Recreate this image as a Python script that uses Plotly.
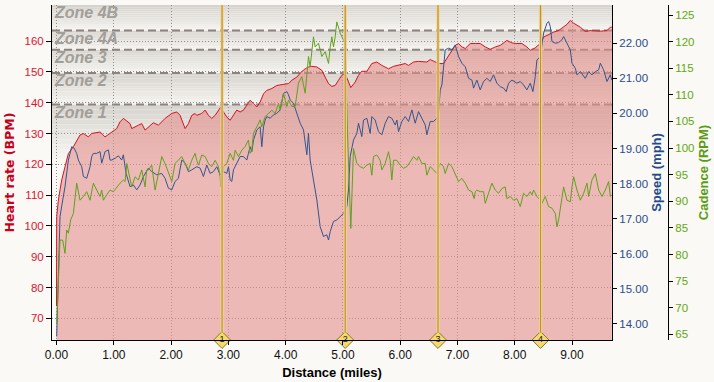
import plotly.graph_objects as go

# ---------------- data ----------------
hr_points = [
    (0.0, 74), (0.003, 103.0), (0.032, 108.4), (0.090, 114.9), (0.148, 119.2), (0.207, 123.5),
    (0.294, 125.7), (0.410, 129.5), (0.469, 130.0), (0.556, 128.9), (0.614, 130.0), (0.760, 130.5),
    (0.847, 128.9), (0.934, 130.0), (1.051, 131.6), (1.109, 133.8), (1.167, 134.9), (1.284, 133.2),
    (1.313, 131.6), (1.429, 132.7), (1.488, 133.2), (1.546, 131.1), (1.691, 133.5), (1.779, 132.7),
    (1.895, 134.9), (2.012, 136.5), (2.099, 137.0), (2.157, 135.9), (2.215, 132.7), (2.245, 131.6),
    (2.303, 133.2), (2.361, 135.9), (2.419, 136.5), (2.448, 135.9), (2.536, 136.5), (2.594, 137.6),
    (2.652, 135.9), (2.710, 134.9), (2.769, 135.9), (2.827, 137.6), (2.868, 138.6), (2.914, 137.0),
    (2.972, 135.4), (3.031, 134.3), (3.089, 135.9), (3.147, 137.6), (3.206, 137.0), (3.264, 137.6),
    (3.322, 139.2), (3.380, 140.8), (3.439, 139.7), (3.497, 138.6), (3.555, 140.2), (3.614, 142.9),
    (3.672, 144.0), (3.759, 144.6), (3.846, 145.6), (3.991, 146.0), (4.050, 146.2), (4.108, 147.3),
    (4.195, 148.3), (4.254, 149.6), (4.341, 151.0), (4.399, 151.6), (4.457, 151.8), (4.545, 151.6),
    (4.632, 150.5), (4.690, 148.3), (4.749, 146.2), (4.807, 145.3), (4.865, 145.6), (4.923, 147.3),
    (4.981, 148.9), (5.039, 149.4), (5.097, 146.7), (5.138, 144.9), (5.214, 146.7), (5.272, 148.9),
    (5.330, 150.2), (5.418, 150.2), (5.505, 152.7), (5.592, 153.2), (5.680, 152.1), (5.796, 151.0),
    (5.884, 151.8), (6.000, 152.3), (6.088, 152.7), (6.146, 152.1), (6.233, 153.2), (6.320, 153.4),
    (6.408, 153.4), (6.466, 153.2), (6.524, 154.0), (6.612, 153.2), (6.670, 152.7), (6.757, 152.7),
    (6.874, 155.9), (6.961, 158.6), (7.019, 159.2), (7.077, 158.1), (7.136, 157.6), (7.223, 159.2),
    (7.310, 159.2), (7.397, 159.2), (7.485, 158.1), (7.572, 157.3), (7.660, 158.1), (7.747, 158.6),
    (7.863, 160.2), (7.951, 159.4), (8.038, 159.2), (8.125, 159.2), (8.212, 158.1), (8.271, 157.0),
    (8.358, 157.8), (8.445, 159.2), (8.504, 161.3), (8.620, 162.4), (8.679, 162.9), (8.766, 163.4),
    (8.853, 164.5), (8.911, 165.4), (8.970, 166.7), (9.028, 165.8), (9.145, 164.5), (9.232, 163.1),
    (9.319, 163.4), (9.407, 163.2), (9.494, 163.2), (9.610, 163.4), (9.669, 164.5), (9.695, 164.5),
]

speed_points = [
    (0.003, 13.64), (0.032, 15.63), (0.061, 17.06), (0.108, 17.53), (0.148, 17.91), (0.207, 18.67),
    (0.265, 19.05), (0.306, 19.01), (0.352, 18.86), (0.381, 18.67), (0.440, 18.48), (0.469, 18.20),
    (0.527, 18.15), (0.585, 18.48), (0.614, 18.77), (0.643, 18.86), (0.702, 18.86), (0.760, 18.91),
    (0.789, 18.58), (0.847, 18.91), (0.905, 18.96), (0.934, 18.67), (0.964, 18.67), (1.022, 18.72),
    (1.080, 18.79), (1.138, 18.67), (1.167, 18.82), (1.214, 18.29), (1.284, 17.91), (1.342, 17.96),
    (1.400, 17.82), (1.459, 17.96), (1.517, 18.20), (1.604, 18.44), (1.662, 18.34), (1.750, 18.25),
    (1.837, 18.29), (1.895, 18.15), (1.953, 17.87), (2.012, 17.82), (2.070, 18.06), (2.128, 18.15),
    (2.186, 18.67), (2.245, 18.58), (2.303, 18.34), (2.361, 18.39), (2.419, 18.44), (2.448, 18.48),
    (2.507, 18.44), (2.565, 18.20), (2.623, 18.53), (2.681, 18.29), (2.740, 18.34), (2.798, 18.48),
    (2.856, 18.25), (2.914, 18.34), (2.972, 18.29), (3.002, 18.48), (3.031, 18.10), (3.060, 18.06),
    (3.089, 18.39), (3.147, 18.58), (3.206, 18.77), (3.264, 18.77), (3.322, 18.67), (3.351, 18.86),
    (3.380, 19.05), (3.410, 18.91), (3.439, 19.24), (3.497, 19.53), (3.555, 19.62), (3.584, 19.05),
    (3.614, 19.62), (3.643, 19.81), (3.672, 19.91), (3.730, 19.86), (3.788, 19.96), (3.846, 20.00),
    (3.905, 20.10), (3.963, 20.57), (4.021, 20.62), (4.050, 20.53), (4.079, 20.38), (4.137, 20.29),
    (4.195, 20.00), (4.254, 19.72), (4.312, 19.53), (4.370, 18.82), (4.399, 19.43), (4.428, 18.67),
    (4.486, 18.10), (4.545, 17.53), (4.603, 16.77), (4.661, 16.49), (4.719, 16.54), (4.749, 16.39),
    (4.778, 16.63), (4.836, 16.92), (4.894, 16.96), (4.952, 17.06), (5.010, 17.15), (5.068, 17.34),
    (5.098, 17.82), (5.127, 18.77), (5.185, 19.24), (5.243, 19.43), (5.272, 19.72), (5.330, 19.34),
    (5.360, 19.81), (5.418, 19.86), (5.476, 19.43), (5.505, 19.91), (5.563, 19.81), (5.621, 19.48),
    (5.680, 19.39), (5.738, 19.72), (5.796, 19.91), (5.854, 19.86), (5.913, 19.67), (5.942, 19.81),
    (5.971, 19.48), (6.029, 19.77), (6.088, 19.91), (6.146, 19.77), (6.204, 20.10), (6.262, 19.72),
    (6.320, 20.05), (6.379, 19.86), (6.437, 19.67), (6.466, 19.39), (6.524, 19.77), (6.582, 19.77),
    (6.641, 19.86), (6.670, 20.00), (6.699, 20.67), (6.728, 20.81), (6.786, 21.81), (6.845, 21.86),
    (6.903, 21.81), (6.961, 21.95), (7.019, 21.62), (7.077, 21.43), (7.136, 21.33), (7.194, 21.00),
    (7.252, 20.95), (7.281, 20.72), (7.339, 20.95), (7.397, 20.67), (7.456, 20.91), (7.514, 21.00),
    (7.572, 20.91), (7.630, 21.10), (7.689, 20.86), (7.747, 20.76), (7.805, 20.72), (7.851, 20.62),
    (7.892, 20.86), (7.951, 20.95), (8.038, 20.86), (8.096, 20.91), (8.154, 20.81), (8.212, 20.67),
    (8.271, 20.86), (8.317, 20.62), (8.358, 21.05), (8.387, 21.52), (8.445, 21.62), (8.504, 22.29),
    (8.562, 22.57), (8.591, 22.62), (8.620, 22.48), (8.650, 22.05), (8.708, 22.00), (8.766, 22.02),
    (8.824, 22.10), (8.853, 22.19), (8.911, 22.00), (8.970, 21.81), (8.999, 21.43), (9.057, 21.29),
    (9.086, 21.10), (9.145, 21.19), (9.232, 21.00), (9.290, 21.19), (9.348, 21.10), (9.407, 21.19),
    (9.465, 21.24), (9.494, 21.43), (9.552, 21.24), (9.610, 20.91), (9.669, 21.10), (9.695, 20.95),
]

cadence_points = [
    (0.003, 67.0), (0.032, 75.8), (0.061, 82.7), (0.108, 82.7), (0.148, 80.2), (0.178, 84.6),
    (0.207, 84.0), (0.247, 86.5), (0.294, 87.7), (0.352, 93.4), (0.410, 90.2), (0.469, 90.9),
    (0.527, 91.8), (0.585, 90.2), (0.643, 93.4), (0.702, 92.1), (0.760, 90.9), (0.789, 92.1),
    (0.818, 90.2), (0.876, 91.2), (0.934, 92.1), (0.993, 91.8), (1.051, 92.7), (1.109, 93.4),
    (1.167, 94.0), (1.197, 93.7), (1.226, 97.1), (1.284, 94.0), (1.313, 92.7), (1.371, 94.6),
    (1.429, 94.0), (1.488, 95.9), (1.546, 92.7), (1.575, 95.9), (1.604, 95.9), (1.662, 96.8),
    (1.721, 92.1), (1.779, 95.2), (1.837, 98.4), (1.895, 97.1), (1.953, 95.2), (2.012, 93.7),
    (2.070, 97.1), (2.128, 97.7), (2.186, 98.4), (2.245, 97.1), (2.303, 95.9), (2.361, 97.7),
    (2.419, 99.0), (2.448, 97.7), (2.478, 96.8), (2.536, 98.7), (2.594, 98.4), (2.652, 97.1),
    (2.710, 96.5), (2.769, 97.7), (2.827, 96.5), (2.856, 94.6), (2.868, 92.7), (2.914, 96.5),
    (2.972, 97.1), (3.031, 99.0), (3.089, 97.7), (3.118, 99.6), (3.177, 98.4), (3.235, 99.6),
    (3.293, 100.3), (3.351, 101.5), (3.380, 99.0), (3.410, 99.6), (3.439, 102.8), (3.497, 104.0),
    (3.555, 105.3), (3.584, 104.0), (3.643, 105.9), (3.701, 106.5), (3.759, 107.1), (3.817, 106.5),
    (3.876, 108.4), (3.905, 107.1), (3.963, 110.3), (3.992, 109.0), (4.021, 107.8), (4.050, 109.0),
    (4.108, 107.8), (4.166, 107.8), (4.195, 110.3), (4.224, 112.2), (4.283, 113.4), (4.341, 110.3),
    (4.399, 117.2), (4.428, 115.3), (4.486, 120.9), (4.515, 119.0), (4.574, 119.7), (4.632, 117.2),
    (4.690, 118.1), (4.749, 115.9), (4.778, 119.0), (4.807, 120.9), (4.836, 119.0), (4.865, 120.9),
    (4.894, 123.7), (4.952, 121.6), (5.010, 120.3), (5.039, 119.7), (5.080, 102.8), (5.138, 84.9),
    (5.185, 99.9), (5.243, 97.1), (5.301, 96.5), (5.360, 96.2), (5.418, 96.8), (5.476, 97.1),
    (5.505, 94.9), (5.534, 98.4), (5.592, 98.7), (5.651, 97.7), (5.680, 95.9), (5.738, 97.1),
    (5.796, 99.3), (5.825, 97.7), (5.854, 94.0), (5.884, 97.7), (5.942, 97.7), (6.000, 96.8),
    (6.058, 96.2), (6.117, 96.5), (6.175, 97.4), (6.233, 98.4), (6.291, 97.7), (6.320, 98.4),
    (6.379, 97.1), (6.437, 97.1), (6.466, 94.9), (6.524, 96.5), (6.582, 95.9), (6.641, 95.2),
    (6.699, 97.1), (6.757, 96.5), (6.786, 95.2), (6.845, 97.1), (6.903, 96.5), (6.961, 95.2),
    (7.019, 93.7), (7.077, 94.3), (7.136, 93.4), (7.194, 92.1), (7.252, 91.8), (7.292, 90.5),
    (7.310, 91.8), (7.339, 92.1), (7.397, 91.8), (7.456, 91.8), (7.485, 89.6), (7.543, 91.5),
    (7.601, 93.4), (7.660, 92.1), (7.718, 91.5), (7.776, 92.4), (7.834, 92.7), (7.863, 90.5),
    (7.922, 90.9), (7.980, 90.2), (8.038, 90.5), (8.096, 89.0), (8.154, 91.5), (8.212, 90.9),
    (8.271, 91.8), (8.300, 91.2), (8.329, 92.1), (8.387, 90.9), (8.445, 90.2), (8.474, 89.6),
    (8.533, 90.9), (8.591, 89.0), (8.650, 88.7), (8.708, 87.7), (8.737, 85.2), (8.766, 86.5),
    (8.795, 88.3), (8.853, 92.7), (8.911, 90.2), (8.970, 89.9), (8.999, 92.7), (9.028, 94.6),
    (9.086, 92.1), (9.145, 90.2), (9.203, 91.5), (9.261, 93.4), (9.290, 90.9), (9.348, 94.0),
    (9.407, 95.2), (9.465, 92.1), (9.523, 90.9), (9.581, 92.1), (9.639, 93.7), (9.669, 90.9),
    (9.695, 91.2),
]

lap_distances = [2.89, 5.04, 6.66, 8.45]
lap_labels = ["1", "2", "3", "4"]

zone_names = ["Zone 1", "Zone 2", "Zone 3", "Zone 4A", "Zone 4B"]
zone_lower = [120.0, 139.4, 149.6, 157.2, 163.4]
zone_upper = [139.4, 149.6, 157.2, 163.4, 171.7]

hr_ticks = [70, 80, 90, 100, 110, 120, 130, 140, 150, 160]
speed_ticks = [14, 15, 16, 17, 18, 19, 20, 21, 22]
cadence_ticks = [65, 70, 75, 80, 85, 90, 95, 100, 105, 110, 115, 120, 125]
mile_ticks = [0, 1, 2, 3, 4, 5, 6, 7, 8, 9]

# ---------------- figure ----------------
hr_x, hr_y = zip(*hr_points)
sp_x, sp_y = zip(*speed_points)
cd_x, cd_y = zip(*cadence_points)

HR_RANGE = [63.0, 171.7]
fig = go.Figure()

fig.add_trace(go.Scatter(
    x=hr_x, y=hr_y, mode="lines", fill="tozeroy",
    fillcolor="rgba(226,142,138,0.6)",
    line=dict(color="#D8121E", width=1), yaxis="y", showlegend=False, hoverinfo="skip"))

fig.add_trace(go.Scatter(
    x=sp_x, y=sp_y, mode="lines", line=dict(color="#34558F", width=1),
    yaxis="y2", showlegend=False, hoverinfo="skip"))

fig.add_trace(go.Scatter(
    x=cd_x, y=cd_y, mode="lines", line=dict(color="#62A11E", width=1),
    yaxis="y3", showlegend=False, hoverinfo="skip"))

fig.add_trace(go.Scatter(
    x=lap_distances, y=[HR_RANGE[0]] * len(lap_distances), mode="markers+text",
    text=lap_labels, textposition="middle center",
    textfont=dict(size=9, color="#222222", family="Liberation Sans"),
    marker=dict(symbol="diamond", size=13, color="#F4D96C",
                line=dict(color="#8A7628", width=1)),
    cliponaxis=False, yaxis="y4", showlegend=False, hoverinfo="skip"))

shapes = []
annotations = []


def mix(c1, c2, t):
    return "rgb(%d,%d,%d)" % tuple(round(a + (b - a) * t) for a, b in zip(c1, c2))


top_col = (214, 211, 206)
bot_col = (246, 244, 240)
bg_col = (251, 250, 247)
n_strips = 12
for i, (lo, hi) in enumerate(zip(zone_lower, zone_upper)):
    end_col = bg_col if i == 0 else bot_col
    for k in range(n_strips):
        y1 = hi - (hi - lo) * k / n_strips
        y0 = hi - (hi - lo) * (k + 1) / n_strips
        shapes.append(dict(type="rect", xref="x domain", yref="y", x0=0, x1=1,
                           y0=y0, y1=y1, layer="below", line=dict(width=0),
                           fillcolor=mix(top_col, end_col, (k + 0.5) / n_strips)))
    annotations.append(dict(text="<b><i>%s</i></b>" % zone_names[i], xref="x domain", yref="y",
                            x=0, y=hi, xanchor="left", yanchor="top", showarrow=False,
                            xshift=0, yshift=3,
                            font=dict(size=16, color="#A29E9A", family="Liberation Sans")))

for b in zone_lower[1:]:
    shapes.append(dict(type="line", xref="x domain", yref="y", x0=0, x1=1, y0=b, y1=b,
                       layer="below", line=dict(color="#8C827E", width=2, dash="8px,4px")))

for d in lap_distances:
    shapes.append(dict(type="line", xref="x", yref="y domain", x0=d, x1=d, y0=0.022, y1=1,
                       layer="above", line=dict(color="#F0D594", width=3.2)))
    shapes.append(dict(type="line", xref="x", yref="y domain", x0=d, x1=d, y0=0.022, y1=1,
                       layer="above", line=dict(color="#C29128", width=1.2)))

tick_font = "Liberation Sans"
fig.update_layout(
    width=714, height=382,
    margin=dict(l=52, r=46, t=5, b=42),
    paper_bgcolor="#FAF9F5", plot_bgcolor="#FBFAF7",
    shapes=shapes, annotations=annotations,
    xaxis=dict(domain=[0, 0.9091], range=[-0.079, 9.698], tickvals=mile_ticks,
               ticktext=["%.2f" % v for v in mile_ticks],
               showline=True, linecolor="#000000", linewidth=1,
               ticks="outside", ticklen=4, tickcolor="#000000",
               showgrid=True, gridcolor="#8E8E8E", griddash="1px,2px", gridwidth=1,
               zeroline=False,
               tickfont=dict(size=12, color="#111111", family=tick_font),
               title=dict(text="<b>Distance (miles)</b>", standoff=6,
                          font=dict(size=13, color="#000000", family=tick_font))),
    yaxis=dict(range=HR_RANGE, tickvals=hr_ticks, side="left",
               showline=True, linecolor="#000000", linewidth=1,
               ticks="outside", ticklen=5, tickcolor="#000000",
               showgrid=True, gridcolor="#8E8E8E", griddash="1px,2px", gridwidth=1,
               zeroline=False,
               tickfont=dict(size=11.5, color="#E0142E", family=tick_font),
               title=dict(text="<b>Heart rate (BPM)</b>", standoff=7,
                          font=dict(size=12.5, color="#C8001A", family="DejaVu Sans"))),
    yaxis2=dict(range=[13.54, 23.09], overlaying="y", side="right", anchor="x",
                tickvals=speed_ticks, ticktext=["%.2f" % v for v in speed_ticks],
                showline=True, linecolor="#000000", linewidth=1,
                ticks="outside", ticklen=4, tickcolor="#000000",
                showgrid=False, zeroline=False,
                tickfont=dict(size=11.5, color="#2B4B8E", family=tick_font),
                title=dict(text="<b>Speed (mph)</b>", standoff=4,
                           font=dict(size=13, color="#244A8A", family=tick_font))),
    yaxis3=dict(range=[63.93, 126.88], overlaying="y", side="right", anchor="free",
                position=1.0, tickvals=cadence_ticks,
                showline=True, linecolor="#000000", linewidth=1,
                ticks="outside", ticklen=4, tickcolor="#000000",
                showgrid=False, zeroline=False,
                tickfont=dict(size=11.5, color="#62A810", family=tick_font),
                title=dict(text="<b>Cadence (RPM)</b>", standoff=5,
                           font=dict(size=13, color="#5C9C12", family=tick_font))),
    yaxis4=dict(range=HR_RANGE, overlaying="y", visible=False, anchor="x"),
)

fig.write_html("out.html")
